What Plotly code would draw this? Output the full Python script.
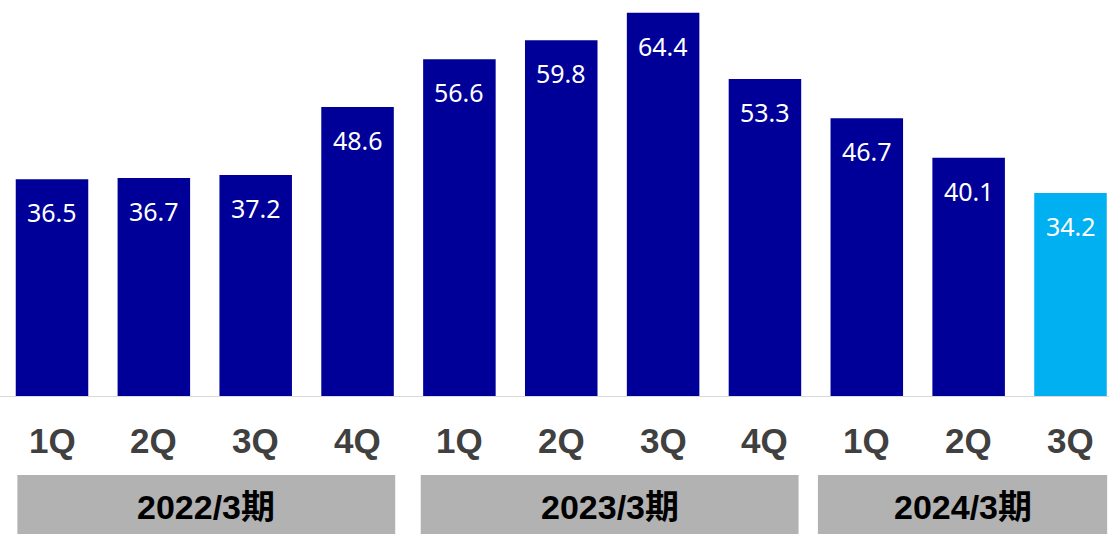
import plotly.graph_objects as go

# Quarterly values
quarters = ["1Q", "2Q", "3Q", "4Q", "1Q", "2Q", "3Q", "4Q", "1Q", "2Q", "3Q"]
values = [36.5, 36.7, 37.2, 48.6, 56.6, 59.8, 64.4, 53.3, 46.7, 40.1, 34.2]

# Fiscal-year groups (first and last quarter index of each)
fiscal_years = ["2022/3期", "2023/3期", "2024/3期"]
fy_first = [0, 4, 8]
fy_last = [3, 7, 10]

# Styling
NAVY = "#000099"
CYAN = "#00B0F0"
BOX_GRAY = "#B2B2B2"
LABEL_GRAY = "#404040"
W, H = 1109, 534
BASE_PX = 397           # pixel row of the bar baseline
PX_PER_UNIT = 5.967     # vertical scale
SLOT_PX = 101.85        # horizontal distance between bar centers
FIRST_CENTER_PX = 52.0
BOX_LEFT_PAD = [0.34, 0.38, 0.48]
BOX_RIGHT_PAD = [0.37, 0.33, 0.36]

x = list(range(len(values)))
colors = [NAVY] * (len(values) - 1) + [CYAN]

fig = go.Figure(
    go.Bar(
        x=x,
        y=values,
        width=0.712,
        marker=dict(color=colors, line=dict(width=0)),
        hoverinfo="skip",
    )
)

# value labels inside the top of each bar
for xi, v in zip(x, values):
    fig.add_annotation(
        x=xi, y=v, xref="x", yref="y",
        text=f"{v:.1f}", showarrow=False,
        yanchor="middle", yshift=-33,
        font=dict(family="Noto Sans, DejaVu Sans, sans-serif", size=25, color="white"),
    )

# quarter labels under the baseline
for xi, q in zip(x, quarters):
    fig.add_annotation(
        x=xi, y=(H - 440) / H, xref="x", yref="paper",
        text=f"<b>{q}</b>", showarrow=False, yanchor="middle",
        font=dict(family="Liberation Sans, Arial, sans-serif", size=35, color=LABEL_GRAY),
    )

# fiscal year bands
for i, (name, a, b) in enumerate(zip(fiscal_years, fy_first, fy_last)):
    x0 = a - BOX_LEFT_PAD[i]
    x1 = b + BOX_RIGHT_PAD[i]
    fig.add_shape(
        type="rect", xref="x", yref="paper",
        x0=x0, x1=x1, y0=-0.01, y1=(H - 475) / H,
        fillcolor=BOX_GRAY, line=dict(width=0), layer="below",
    )
    fig.add_annotation(
        x=(x0 + x1) / 2, y=(H - 507) / H, xref="x", yref="paper",
        text=f"<b>{name}</b>", showarrow=False, yanchor="middle",
        font=dict(family="Liberation Sans, Noto Sans CJK JP, sans-serif", size=34, color="black"),
    )

# baseline
fig.add_shape(
    type="line", xref="paper", yref="y",
    x0=0, x1=1, y0=0, y1=0,
    line=dict(color="#D9D9D9", width=2),
)

x_lo = -FIRST_CENTER_PX / SLOT_PX
x_hi = (W - FIRST_CENTER_PX) / SLOT_PX

fig.update_layout(
    width=W, height=H,
    margin=dict(l=0, r=0, t=0, b=0),
    paper_bgcolor="white", plot_bgcolor="white",
    showlegend=False,
    xaxis=dict(range=[x_lo, x_hi], visible=False, fixedrange=True),
    yaxis=dict(
        range=[0, BASE_PX / PX_PER_UNIT],
        domain=[(H - BASE_PX) / H, 1],
        visible=False, fixedrange=True,
    ),
)

fig.write_html("out.html", config={"displayModeBar": False})
